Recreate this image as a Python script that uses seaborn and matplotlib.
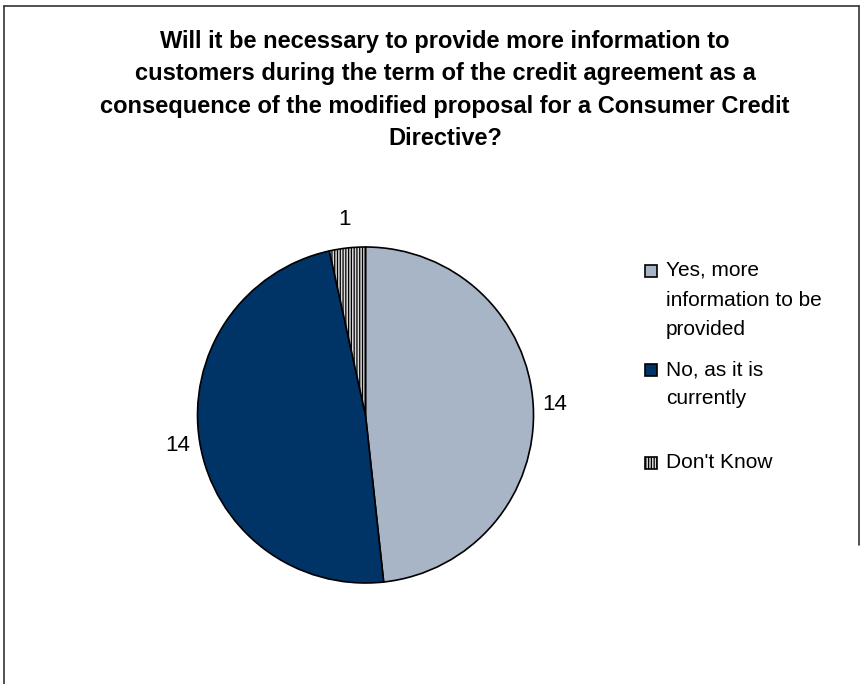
import numpy as np
import matplotlib
matplotlib.use("Agg")
import matplotlib.pyplot as plt
import seaborn as sns
from matplotlib.patches import Rectangle

# данные
categories = ["Yes, more\ninformation to be\nprovided", "No, as it is\ncurrently", "Don't Know"]
counts = [14, 14, 1]
colors = ["#A8B5C6", "#003366", "#D9D9D9"]
hatches = [None, None, "||||||"]
title = ("Will it be necessary to provide more information to\n"
         "customers during the term of the credit agreement as a\n"
         "consequence of the modified proposal for a Consumer Credit\n"
         "Directive?")

sns.set_style("white")
plt.rcParams["font.family"] = ["Liberation Sans", "DejaVu Sans"]
plt.rcParams["text.color"] = "black"
plt.rcParams["hatch.color"] = "#9A9A9A"
plt.rcParams["hatch.linewidth"] = 0.9

W, H = 867, 684
fig = plt.figure(figsize=(W / 100, H / 100), dpi=100)


def fx(px):
    return px / W


def fy(py):
    return 1 - py / H


# рамка
fig.add_artist(plt.Line2D([fx(4), fx(4)], [fy(6), 0], color="#333333", lw=1.2))
fig.add_artist(plt.Line2D([fx(4), fx(859)], [fy(6), fy(6)], color="#333333", lw=1.2))
fig.add_artist(plt.Line2D([fx(859), fx(859)], [fy(6), fy(545)], color="#333333", lw=1.2))

# заголовок
fig.text(fx(445), fy(30), title, ha="center", va="top", fontsize=17,
         fontweight="bold", linespacing=1.52)

# круговая диаграмма
cx, cy, r = 365.5, 415, 168
ax = fig.add_axes([fx(cx - r), fy(cy + r), 2 * r / W, 2 * r / H])
wedges, _ = ax.pie(counts, colors=colors, startangle=90, counterclock=False,
                   wedgeprops=dict(edgecolor="black", linewidth=1.2))
for w, h in zip(wedges, hatches):
    if h:
        w.set_hatch(h)
ax.set_xlim(-1, 1)
ax.set_ylim(-1, 1)
ax.set_aspect("auto")
ax.axis("off")

# подписи значений
for w, v in zip(wedges, counts):
    ang = np.deg2rad((w.theta1 + w.theta2) / 2)
    d = 1.13 if v > 1 else 1.17
    ax.text(d * np.cos(ang), d * np.sin(ang), str(v), ha="center", va="center",
            fontsize=16)

# легенда
first_lines = [263, 362, 455]
for lab, col, h, top in zip(categories, colors, hatches, first_lines):
    fig.add_artist(Rectangle((fx(645), fy(top + 14)), 12 / W, 12 / H,
                             facecolor=col, edgecolor="black", lw=1.2,
                             hatch=h, transform=fig.transFigure))
    fig.text(fx(666), fy(top - 2), lab, ha="left", va="top", fontsize=15,
             linespacing=1.7)

plt.savefig("out.png", dpi=100)
